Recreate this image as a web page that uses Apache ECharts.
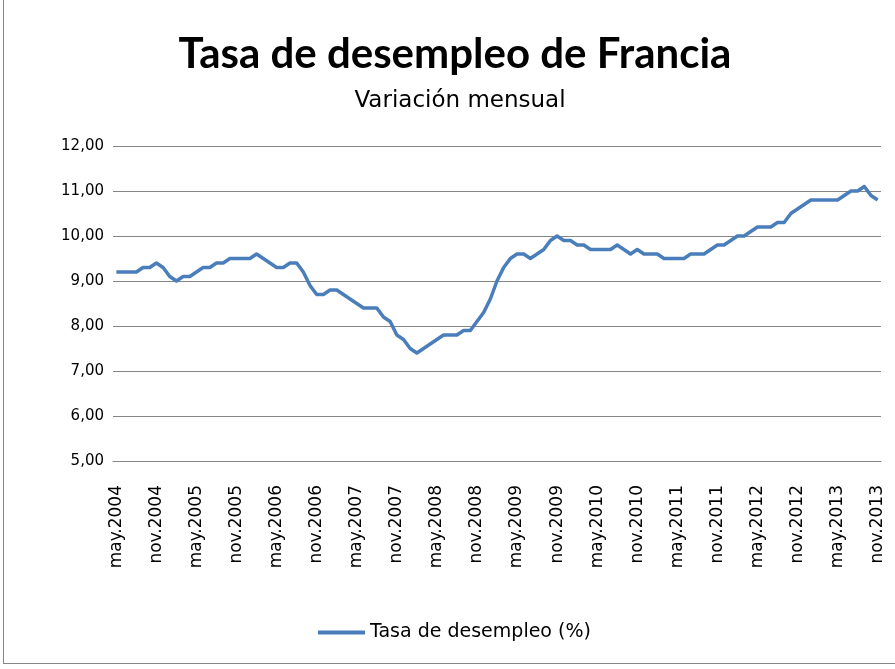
<!DOCTYPE html>
<html>
<head>
<meta charset="utf-8">
<script src="https://cdn.jsdelivr.net/npm/echarts@6/dist/echarts.min.js"></script>
<style>
  html, body { margin: 0; padding: 0; background: #fff; }
  #chart { position: absolute; left: 0; top: 0; width: 895px; height: 669px; }
  #frame { position: absolute; left: 3px; top: -2px; width: 900px; height: 666px;
           border: 1px solid #868686; box-sizing: border-box; }
</style>
</head>
<body>
<div id="frame"></div>
<div id="chart"></div>
<script>
// meses (etiquetas en español)
const monthNames = ['ene', 'feb', 'mar', 'abr', 'may', 'jun', 'jul', 'ago', 'sep', 'oct', 'nov', 'dic'];
const startYear = 2004;
const startMonth = 4; // mayo
const monthCount = 115; // may.2004 .. nov.2013

const categories = [];
for (let i = 0; i < monthCount; i++) {
  const m = (startMonth + i) % 12;
  const y = startYear + Math.floor((startMonth + i) / 12);
  categories.push(monthNames[m] + '.' + y);
}

// Tasa de desempleo (%)
const rate2004 = [9.2, 9.2, 9.2, 9.2, 9.3, 9.3, 9.4, 9.3];
const rate2005 = [9.1, 9.0, 9.1, 9.1, 9.2, 9.3, 9.3, 9.4, 9.4, 9.5, 9.5, 9.5];
const rate2006 = [9.5, 9.6, 9.5, 9.4, 9.3, 9.3, 9.4, 9.4, 9.2, 8.9, 8.7, 8.7];
const rate2007 = [8.8, 8.8, 8.7, 8.6, 8.5, 8.4, 8.4, 8.4, 8.2, 8.1, 7.8, 7.7];
const rate2008 = [7.5, 7.4, 7.5, 7.6, 7.7, 7.8, 7.8, 7.8, 7.9, 7.9, 8.1, 8.3];
const rate2009 = [8.6, 9.0, 9.3, 9.5, 9.6, 9.6, 9.5, 9.6, 9.7, 9.9, 10.0, 9.9];
const rate2010 = [9.9, 9.8, 9.8, 9.7, 9.7, 9.7, 9.7, 9.8, 9.7, 9.6, 9.7, 9.6];
const rate2011 = [9.6, 9.6, 9.5, 9.5, 9.5, 9.5, 9.6, 9.6, 9.6, 9.7, 9.8, 9.8];
const rate2012 = [9.9, 10.0, 10.0, 10.1, 10.2, 10.2, 10.2, 10.3, 10.3, 10.5, 10.6, 10.7];
const rate2013 = [10.8, 10.8, 10.8, 10.8, 10.8, 10.9, 11.0, 11.0, 11.1, 10.9, 10.8];
const rates = [].concat(rate2004, rate2005, rate2006, rate2007, rate2008,
                        rate2009, rate2010, rate2011, rate2012, rate2013);

const chart = echarts.init(document.getElementById('chart'));

const option = {
  backgroundColor: 'transparent',
  animation: false,
  title: [
    {
      text: 'Tasa de desempleo de Francia',
      left: 450, top: 28, textAlign: 'center',
      textStyle: { fontFamily: 'Lato', fontWeight: 'bold', fontSize: 42, color: '#000' }
    },
    {
      text: 'Variación mensual',
      left: 455, top: 85, textAlign: 'center',
      textStyle: { fontFamily: 'DejaVu Sans', fontWeight: 'normal', fontSize: 23, color: '#000' }
    }
  ],
  legend: {
    data: ['Tasa de desempleo (%)'],
    left: 313, bottom: 22,
    icon: 'rect',
    itemWidth: 47, itemHeight: 4, itemGap: 8,
    textStyle: { fontFamily: 'DejaVu Sans', fontSize: 19, color: '#000' }
  },
  grid: { left: 113, right: 14, top: 146, bottom: 208 },
  xAxis: {
    type: 'category',
    data: categories,
    boundaryGap: true,
    axisLine: { lineStyle: { color: '#868686', width: 1 } },
    axisTick: { show: false },
    axisLabel: {
      interval: 5, rotate: 90, margin: 24,
      fontFamily: 'DejaVu Sans', fontSize: 17, color: '#000'
    }
  },
  yAxis: {
    type: 'value',
    min: 5, max: 12, interval: 1,
    axisLine: { show: false },
    axisTick: { show: false },
    splitLine: { lineStyle: { color: '#868686', width: 1 } },
    axisLabel: {
      margin: 9, fontFamily: 'DejaVu Sans', fontSize: 15, color: '#000',
      formatter: v => v.toFixed(2).replace('.', ',')
    }
  },
  series: [
    {
      name: 'Tasa de desempleo (%)',
      type: 'line',
      data: rates,
      showSymbol: false,
      symbol: 'none',
      lineStyle: { color: '#4a7ebb', width: 3.5, join: 'round' },
      itemStyle: { color: '#4a7ebb' }
    }
  ]
};

chart.setOption(option);
</script>
</body>
</html>
